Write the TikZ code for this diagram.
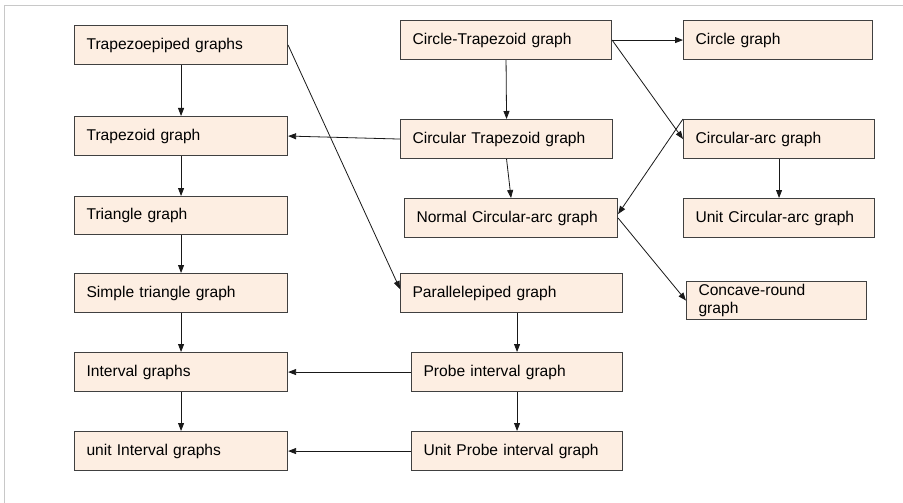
\documentclass[tikz,border=0pt]{standalone}
\usepackage{fontspec}
\setmainfont{Liberation Sans}
\usetikzlibrary{arrows.meta}
\definecolor{boxfill}{HTML}{FDEEE2}
\definecolor{boxdraw}{HTML}{404040}
\definecolor{framegray}{HTML}{C8C8C8}
\tikzset{
  gbox/.style={draw=boxdraw, line width=1.1pt, fill=boxfill, anchor=north west,
    inner xsep=12pt, inner ysep=0pt, align=left, font=\fontsize{15.6}{18}\selectfont,
    text=black},
  conn/.style={line width=0.8pt, draw=black!90, -{Triangle[length=8pt,width=6pt]}}
}
\newcommand{\gnode}[7]{% name, x, y, w, h, text
  \node[gbox, text width=#4pt-24pt, minimum height=#5pt] (#1) at (#2,#3) {#6};}
\begin{document}
\begin{tikzpicture}[x=1pt,y=-1pt]
\useasboundingbox (0,0) rectangle (903,503);
\fill[white] (0,0) rectangle (903,503);
\draw[framegray, line width=1pt] (4,503) -- (4,6) -- (903,6);
% left column
\gnode{tz}{74}{25}{213}{39}{Trapezoepiped graphs}{}
\gnode{tg}{74}{116}{213}{39}{Trapezoid graph}{}
\gnode{trg}{74}{196}{213}{38}{Triangle graph}{}
\gnode{stg}{74}{273}{213}{39}{Simple triangle graph}{}
\gnode{ig}{74}{352}{213}{39}{Interval graphs}{}
\gnode{uig}{74}{431}{213}{39}{unit Interval graphs}{}
% middle column
\gnode{ct}{400}{20}{211}{39}{Circle-Trapezoid graph}{}
\gnode{ctr}{400}{119}{212}{39}{Circular Trapezoid graph}{}
\gnode{nca}{404}{198}{213}{39}{Normal Circular-arc graph}{}
\gnode{pp}{400}{273}{222}{39}{Parallelepiped graph}{}
\gnode{pi}{411}{352}{211}{39}{Probe interval graph}{}
\gnode{upi}{411}{431}{211}{39}{Unit Probe interval graph}{}
% right column
\gnode{cg}{683}{20}{189}{39}{Circle graph}{}
\gnode{ca}{683}{119}{191}{39}{Circular-arc graph}{}
\gnode{uca}{683}{198}{191}{39}{Unit Circular-arc graph}{}
\node[gbox, text width=180pt-24pt, minimum height=38pt] (cr) at (686,281) {Concave-round\\graph};
% connectors
\draw[conn] (tz.south) -- (tg.north);
\draw[conn] (tg.south) -- (trg.north);
\draw[conn] (trg.south) -- (stg.north);
\draw[conn] (stg.south) -- (ig.north);
\draw[conn] (ig.south) -- (uig.north);
\draw[conn] (tz.east) -- ([yshift=4pt]pp.west);
\draw[conn] (ct.south) -- (ctr.north);
\draw[conn] (ct.east) -- (cg.west);
\draw[conn] (ct.east) -- (ca.west);
\draw[conn] (ctr.west) -- (tg.east);
\draw[conn] (ctr.south) -- (nca.north);
\draw[conn] (ca.north west) -- ([yshift=4pt]nca.east);
\draw[conn] (nca.east) -- (cr.west);
\draw[conn] (ca.south) -- (uca.north);
\draw[conn] (pi.north |- pp.south) -- (pi.north);
\draw[conn] (pi.west) -- (ig.east);
\draw[conn] (pi.south) -- (upi.north);
\draw[conn] (upi.west) -- (uig.east);
\end{tikzpicture}
\end{document}
